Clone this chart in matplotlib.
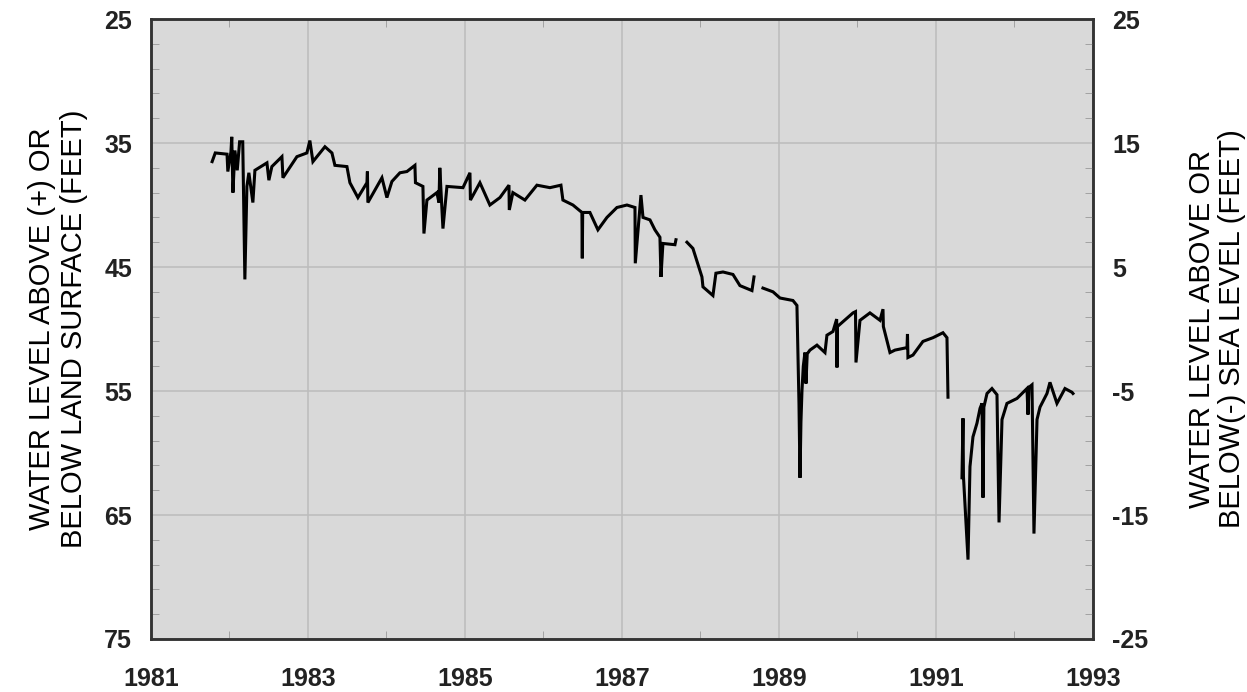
import numpy as np
import matplotlib
matplotlib.use("Agg")
import matplotlib.pyplot as plt
from matplotlib.ticker import MultipleLocator, FixedLocator
from matplotlib.font_manager import FontProperties

plt.rcParams["axes.unicode_minus"] = False

# water level record (nan = gap in record)
years = [1981.78, 1981.82, 1981.97, 1981.98, 1982.02, 1982.03, 1982.045, 1982.07, 1982.10, 1982.13,
         1982.17, 1982.197, 1982.223, 1982.248, 1982.299, 1982.325, 1982.478, 1982.503, 1982.541, 1982.669,
         1982.682, 1982.86, 1982.987, 1983.025, 1983.064, 1983.217, 1983.306, 1983.344, 1983.497, 1983.535,
         1983.637, 1983.752, 1983.758, 1983.764, 1983.943, 1984.006, 1984.07, 1984.172, 1984.261, 1984.363,
         1984.37, 1984.465, 1984.478, 1984.516, 1984.643, 1984.669, 1984.68, 1984.72, 1984.771, 1984.975,
         1985.064, 1985.07, 1985.191, 1985.318, 1985.446, 1985.561, 1985.565, 1985.611, 1985.764, 1985.917,
         1986.083, 1986.223, 1986.248, 1986.376, 1986.49, 1986.495, 1986.50, 1986.592, 1986.694, 1986.809,
         1986.936, 1987.064, 1987.166, 1987.17, 1987.242, 1987.268, 1987.357, 1987.42, 1987.484, 1987.497,
         1987.522, 1987.675, 1987.688, 1987.76, 1987.828, 1987.904, 1988.019, 1988.032, 1988.159, 1988.197,
         1988.287, 1988.414, 1988.503, 1988.656, 1988.682, 1988.74, 1988.796, 1988.924, 1989.013, 1989.178,
         1989.229, 1989.255, 1989.268, 1989.28, 1989.293, 1989.31, 1989.331, 1989.344, 1989.36, 1989.395,
         1989.484, 1989.586, 1989.611, 1989.688, 1989.735, 1989.739, 1989.745, 1989.943, 1989.975, 1989.981,
         1990.032, 1990.159, 1990.287, 1990.325, 1990.33, 1990.414, 1990.478, 1990.631, 1990.637, 1990.643,
         1990.707, 1990.834, 1990.962, 1991.089, 1991.14, 1991.153, 1991.25, 1991.331, 1991.344, 1991.35,
         1991.395, 1991.408, 1991.433, 1991.471, 1991.522, 1991.561, 1991.586, 1991.599, 1991.61, 1991.65,
         1991.713, 1991.777, 1991.803, 1991.841, 1991.904, 1992.032, 1992.159, 1992.172, 1992.185, 1992.223,
         1992.248, 1992.287, 1992.325, 1992.414, 1992.452, 1992.541, 1992.643, 1992.732, 1992.745]
depth_ft = [36.5, 35.8, 35.9, 37.3, 35.7, 34.5, 39.0, 35.6, 37.2, 34.9,
            34.9, 46.0, 38.5, 37.4, 39.8, 37.2, 36.6, 38.0, 36.9, 36.1,
            37.8, 36.1, 35.8, 34.8, 36.5, 35.3, 35.8, 36.8, 36.9, 38.2,
            39.4, 38.2, 37.3, 39.8, 37.8, 39.4, 38.1, 37.4, 37.3, 36.8,
            38.2, 38.5, 42.3, 39.6, 39.0, 39.8, 37.0, 41.9, 38.5, 38.6,
            37.4, 39.6, 38.2, 40.0, 39.4, 38.4, 40.4, 39.0, 39.6, 38.4,
            38.6, 38.4, 39.6, 40.0, 40.6, 44.3, 40.6, 40.6, 42.0, 41.0,
            40.2, 40.0, 40.2, 44.7, 39.2, 41.0, 41.2, 42.0, 42.6, 45.8,
            43.1, 43.2, 42.8, np.nan, 43.0, 43.5, 45.8, 46.6, 47.3, 45.5,
            45.4, 45.6, 46.5, 46.9, 45.8, np.nan, 46.7, 47.0, 47.5, 47.7,
            48.1, 56.0, 62.0, 57.5, 55.0, 53.0, 51.9, 54.4, 52.0, 51.7,
            51.3, 51.9, 50.5, 50.2, 49.2, 53.1, 49.8, 48.7, 48.6, 52.7,
            49.3, 48.7, 49.3, 48.4, 49.8, 51.9, 51.7, 51.5, 50.4, 52.3,
            52.1, 51.0, 50.7, 50.3, 50.7, 55.5, np.nan, 62.0, 57.2, 61.9,
            67.0, 68.6, 61.1, 58.7, 57.6, 56.4, 56.0, 63.6, 56.3, 55.2,
            54.8, 55.3, 65.6, 57.3, 56.0, 55.6, 54.8, 56.9, 54.7, 54.5,
            66.5, 57.3, 56.3, 55.2, 54.3, 56.0, 54.8, 55.1, 55.2]

left_ticks = [25, 35, 45, 55, 65, 75]
right_ticks = [25, 15, 5, -5, -15, -25]
year_ticks = [1981, 1983, 1985, 1987, 1989, 1991, 1993]

fig = plt.figure(figsize=(12.47, 6.92), dpi=100)
ax = fig.add_axes([0.121, 0.0766, 0.7555, 0.8959])
ax.set_facecolor("#d9d9d9")

ax.plot(years, depth_ft, color="black", lw=2.2, solid_joinstyle="miter")

ax.set_xlim(1981, 1993)
ax.set_ylim(75, 25)
ax.set_xticks(year_ticks)
ax.set_yticks(left_ticks)
ax.xaxis.set_minor_locator(MultipleLocator(1))
ax.yaxis.set_minor_locator(FixedLocator(np.arange(27, 75, 2)))
ax.grid(True, which="major", color="#bcbcbc", lw=1.1)

tfont = FontProperties(family=["Liberation Sans", "DejaVu Sans"], weight="bold", size=18)
lfont = {"family": ["Liberation Sans", "DejaVu Sans"], "size": 21}

ax.tick_params(which="major", length=0, pad=13.5, labelcolor="#222222")
ax.tick_params(axis="x", which="major", pad=20)
ax.tick_params(which="minor", direction="in", length=6, color="#999999",
               top=True, bottom=True, left=True, right=False)
for lab in ax.get_xticklabels() + ax.get_yticklabels():
    lab.set_fontproperties(tfont)
for s in ax.spines.values():
    s.set_color("#333333")
    s.set_linewidth(1.8)

ax.set_ylabel("WATER LEVEL ABOVE (+) OR\nBELOW LAND SURFACE (FEET)", fontdict=lfont,
              labelpad=12, linespacing=1.15)

ax2 = ax.twinx()
ax2.set_ylim(-25, 25)
ax2.set_yticks(right_ticks)
ax2.yaxis.set_minor_locator(FixedLocator(np.arange(-23, 25, 2)))
ax2.tick_params(which="major", length=0, pad=14, labelcolor="#222222")
ax2.tick_params(which="minor", direction="in", length=6, color="#999999")
for lab in ax2.get_yticklabels():
    lab.set_fontproperties(tfont)
for s in ax2.spines.values():
    s.set_color("#333333")
    s.set_linewidth(1.8)
ax2.set_ylabel("WATER LEVEL ABOVE OR\nBELOW(-) SEA LEVEL (FEET)", fontdict=lfont,
               labelpad=28, linespacing=1.1, rotation=90)

fig.savefig("out.png", dpi=100)
